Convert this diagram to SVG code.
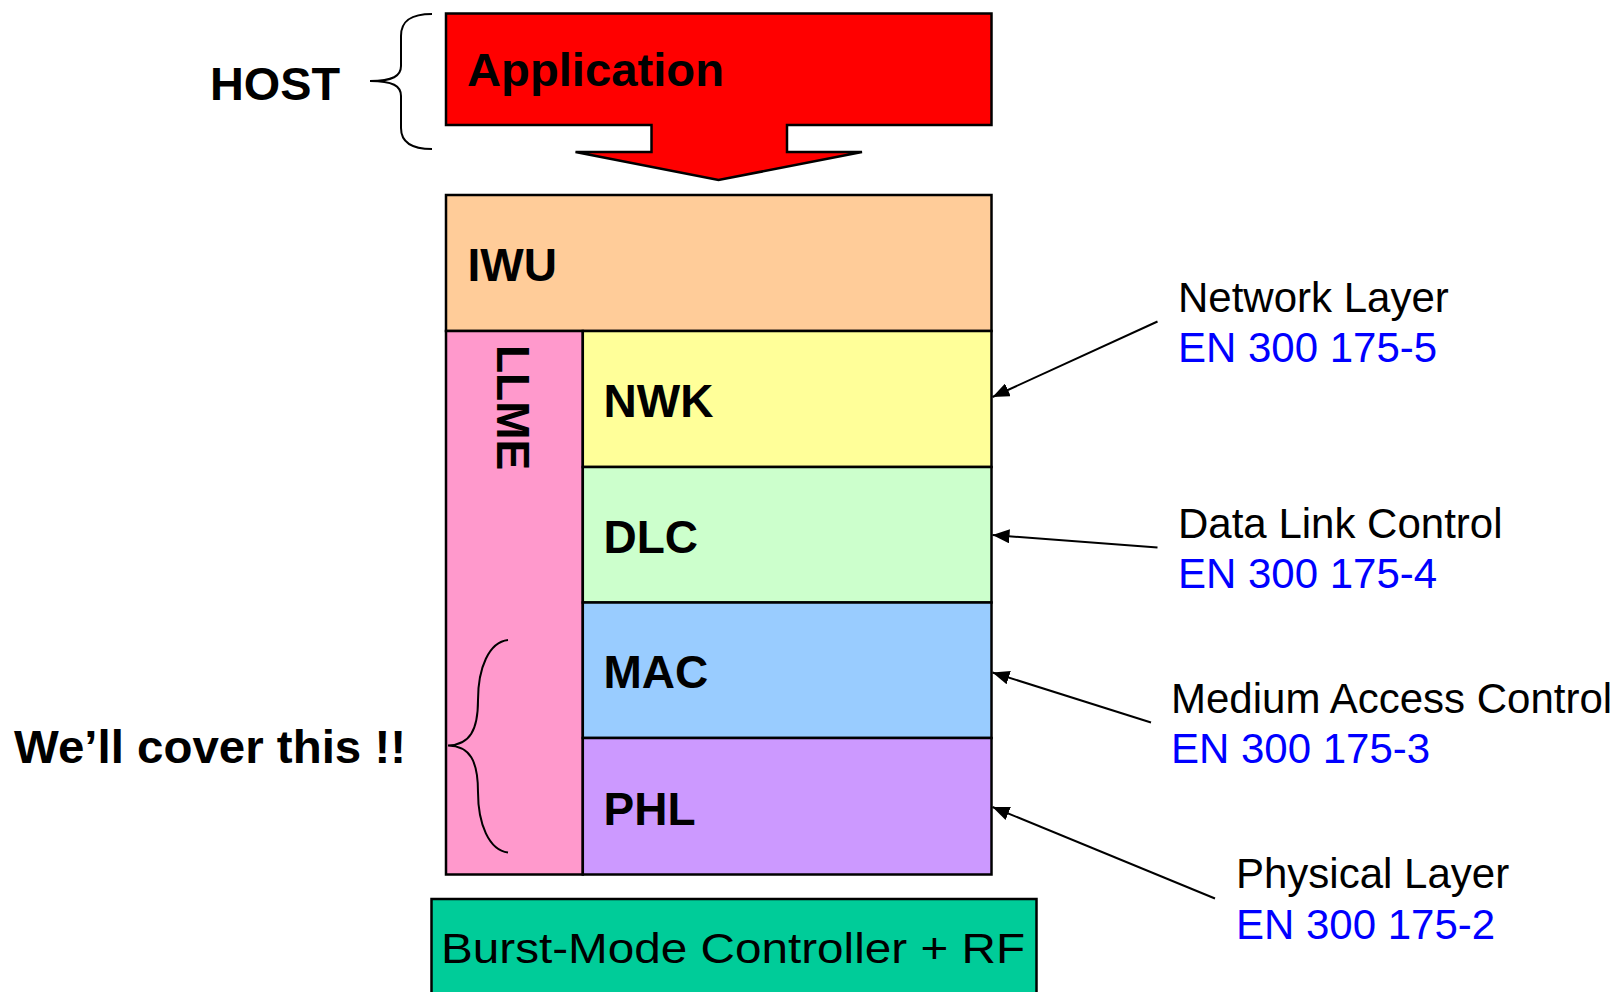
<svg xmlns="http://www.w3.org/2000/svg" width="1623" height="992" viewBox="0 0 1623 992">
<defs>
<style>
.box{stroke:#000;stroke-width:2.5}
.b{font-family:"Liberation Sans",Arial,sans-serif;font-weight:bold;font-size:46px;fill:#000}
.r{font-family:"Liberation Sans",Arial,sans-serif;font-size:42px;fill:#000}
.blue{fill:#0000FF}
.brace{fill:none;stroke:#000;stroke-width:2}
.conn{stroke:#000;stroke-width:2;fill:none}
</style>
<marker id="ah" markerUnits="userSpaceOnUse" markerWidth="18" markerHeight="14" refX="17" refY="7" orient="auto">
<path d="M0,0 L17,7 L0,14 Z" fill="#000"/>
</marker>
</defs>
<rect width="1623" height="992" fill="#fff"/>

<g id="host">
<text class="b" x="210" y="99.5" textLength="130" lengthAdjust="spacingAndGlyphs">HOST</text>
<path class="brace" d="M432 14 C412 14 401 20 401 36 L401 66 C401 76 393 81 370 81 C393 81 401 86 401 96 L401 128 C401 143 412 149 432 149"/>
</g>

<g id="application">
<path class="box" fill="#FF0000" d="M446 13.5 L991.5 13.5 L991.5 125 L787 125 L787 152 L862 152 L718.5 180 L575.5 152 L651.5 152 L651.5 125 L446 125 Z"/>
<text class="b" x="467" y="86" textLength="257" lengthAdjust="spacingAndGlyphs">Application</text>
</g>

<g id="iwu">
<rect class="box" x="446" y="195" width="545.5" height="136" fill="#FFCC99"/>
<text class="b" x="467.5" y="281">IWU</text>
</g>

<g id="llme">
<rect class="box" x="446" y="331" width="136.8" height="543.5" fill="#FF99CC"/>
<text class="b" transform="translate(497,345) rotate(90)">LLME</text>
</g>

<g id="nwk">
<rect class="box" x="582.8" y="331" width="408.7" height="136" fill="#FFFF99"/>
<text class="b" x="603.5" y="417">NWK</text>
</g>

<g id="dlc">
<rect class="box" x="582.8" y="467" width="408.7" height="135.5" fill="#CCFFCC"/>
<text class="b" x="603.5" y="552.5">DLC</text>
</g>

<g id="mac">
<rect class="box" x="582.8" y="602.5" width="408.7" height="135.5" fill="#99CCFF"/>
<text class="b" x="603.5" y="688">MAC</text>
</g>

<g id="phl">
<rect class="box" x="582.8" y="738" width="408.7" height="136.5" fill="#CC99FF"/>
<text class="b" x="603.5" y="824.5">PHL</text>
</g>

<g id="cover">
<text class="b" x="14" y="763" textLength="392" lengthAdjust="spacingAndGlyphs">We’ll cover this !!</text>
<path class="brace" d="M508 640 C489 642 478 668 478 700 C478 730 470 745 448 745.5 C470 746 478 761 478 792 C478 824 489 850 508 852.5"/>
</g>

<g id="burst">
<rect class="box" x="431.5" y="899" width="605" height="100" fill="#00CC99"/>
<text class="r" x="441" y="963" font-size="44" textLength="584" lengthAdjust="spacingAndGlyphs">Burst-Mode Controller + RF</text>
</g>

<g id="labels">
<text class="r" x="1178" y="312">Network Layer</text>
<text class="r blue" x="1178" y="362">EN 300 175-5</text>
<text class="r" x="1178" y="537.5">Data Link Control</text>
<text class="r blue" x="1178" y="588">EN 300 175-4</text>
<text class="r" x="1171" y="712.5">Medium Access Control</text>
<text class="r blue" x="1171" y="763">EN 300 175-3</text>
<text class="r" x="1236" y="887.5">Physical Layer</text>
<text class="r blue" x="1236" y="938.5">EN 300 175-2</text>
</g>

<g id="connectors">
<line class="conn" x1="1157.5" y1="321.5" x2="992.5" y2="397" marker-end="url(#ah)"/>
<line class="conn" x1="1157.5" y1="547.5" x2="992.5" y2="535" marker-end="url(#ah)"/>
<line class="conn" x1="1151" y1="722.5" x2="992.5" y2="672.5" marker-end="url(#ah)"/>
<line class="conn" x1="1215" y1="898.5" x2="992.5" y2="807" marker-end="url(#ah)"/>
</g>
</svg>
